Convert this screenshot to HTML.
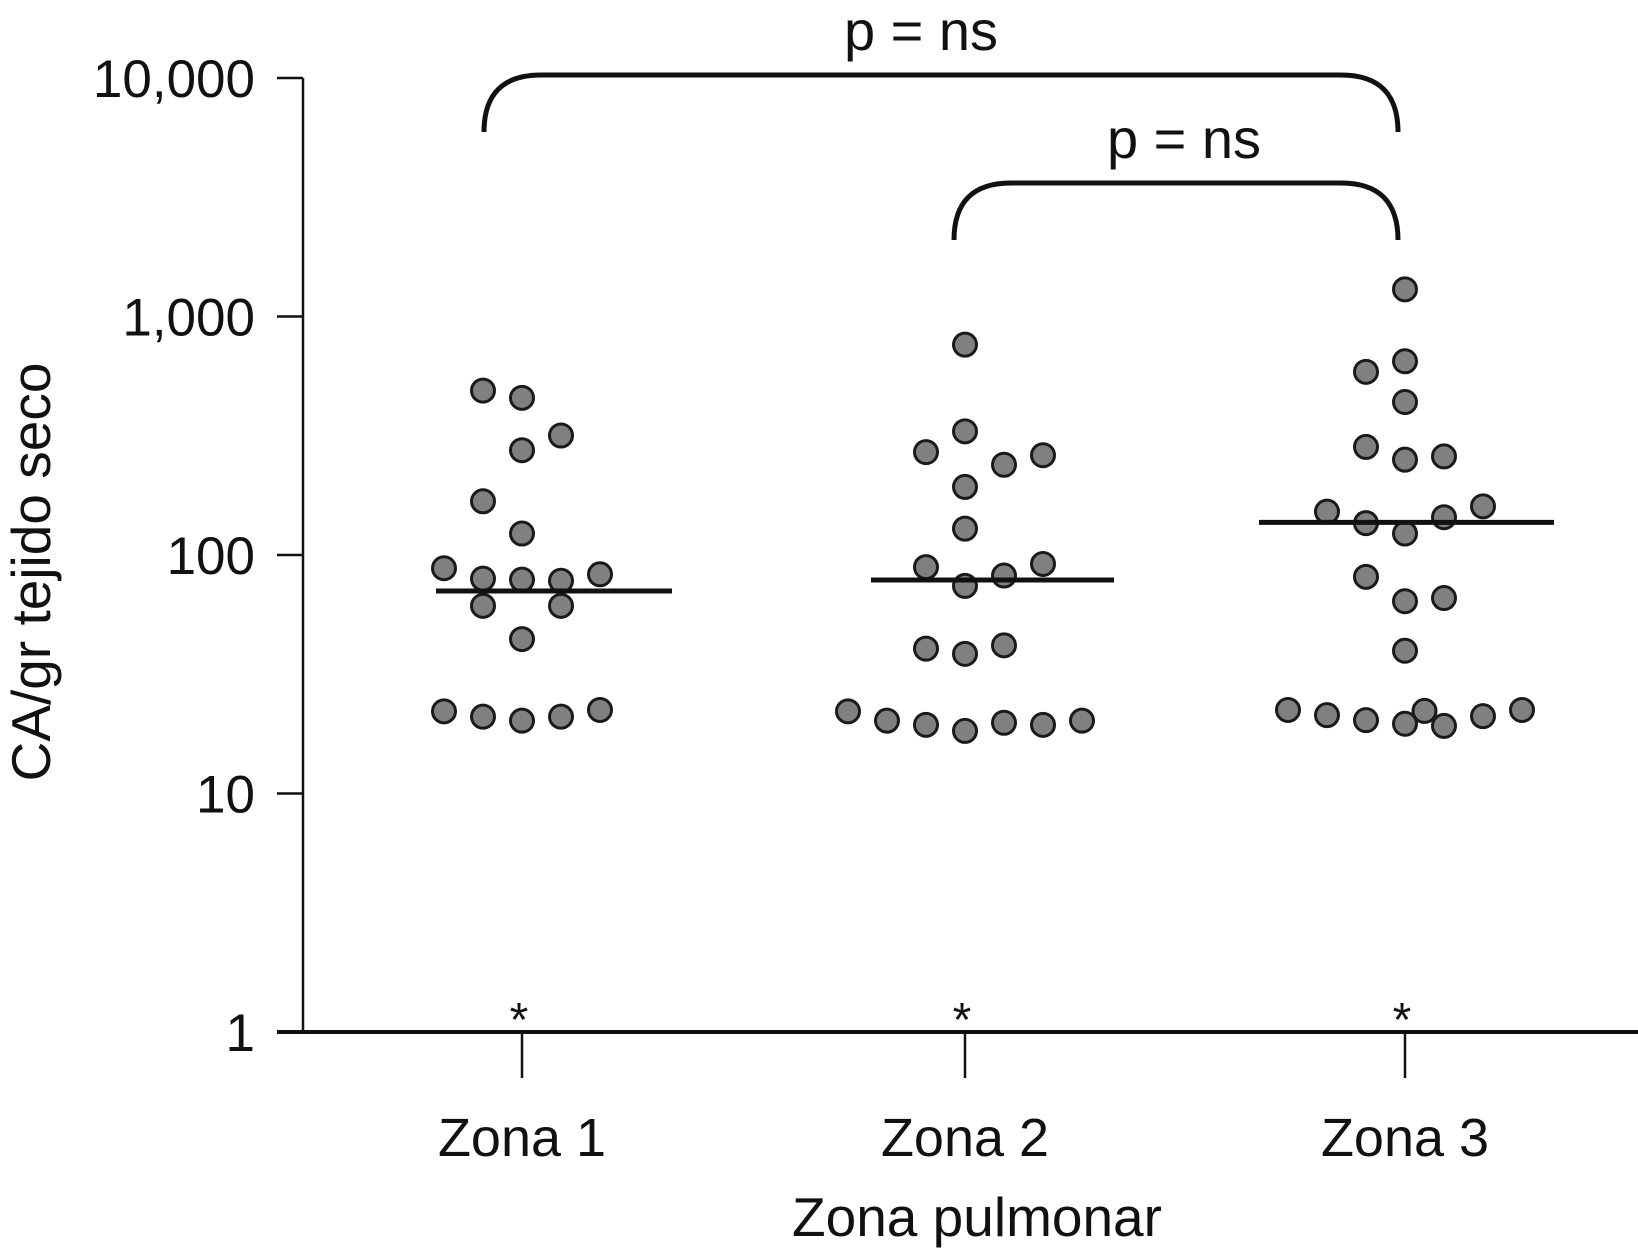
<!DOCTYPE html>
<html><head><meta charset="utf-8"><style>
body{margin:0;background:#fff}
svg{display:block;font-family:"Liberation Sans",Arial,sans-serif}
</style></head><body>
<svg id="chart" width="1638" height="1250" viewBox="0 0 1638 1250">
<g id="axes"></g>
<g id="marks"></g>
</svg>
<script>
const categories = ["Zona 1","Zona 2","Zona 3"];
const zona1Values = [489,456,317,275,168,123,88,79.6,78.8,78,83,61.2,61.2,44.4,22.1,21,20.2,21,22.4];
const zona1Slots  = [-1,0,1,0,-1,0,-2,-1,0,1,2,-1,1,0,-2,-1,0,1,2];
const zona2Values = [762,330,270,262,239,193,129,89,82,91.7,74.2,40.5,41.8,38.5,22.1,20.2,19.4,18.3,19.8,19.4,20.2];
const zona2Slots  = [0,0,-1,2,1,0,0,-1,1,2,0,-1,1,0,-3,-2,-1,0,1,2,3];
const zona3Values = [1300,586,649,438,284,251,259,152,136,123,144,160,81,64,66,39.7,22.4,21.3,20.3,19.6,22.2,19.2,21.1,22.4];
const zona3Slots  = [0,-1,0,0,-1,0,1,-2,-1,0,1,2,-1,0,1,0,-3,-2,-1,0,0.5,1,2,3];
const medians = [70.6,78.6,137];
const yTicks = [1,10,100,1000,10000];
const yTickLabels = ["1","10","100","1,000","10,000"];

const NS="http://www.w3.org/2000/svg";
const axes=document.getElementById('axes'), marks=document.getElementById('marks');
const yTop=78, yBot=1032, decade=(yBot-yTop)/4;
function y(v){return yBot-Math.log10(v)*decade;}
const catX=[522,965,1405];
function x(i){return catX[i];}
const slotW=39;
function mk(tag,attrs,parent,text){const e=document.createElementNS(NS,tag);for(const k in attrs)e.setAttribute(k,attrs[k]);if(text!==undefined)e.textContent=text;parent.appendChild(e);return e;}

let el=mk('line',{x1:303,y1:yTop,x2:303,y2:yBot,stroke:'#111','stroke-width':2.5},axes);


el=mk('line',{x1:277,y1:yBot,x2:1638,y2:yBot,stroke:'#111','stroke-width':4},axes);


yTicks.forEach((t,i)=>{
  let tk=mk('line',{x1:277,y1:y(t),x2:303,y2:y(t),stroke:'#111','stroke-width':2.5},axes);
  
  
  let lb=mk('text',{x:255,y:y(t)+19,'text-anchor':'end','font-size':53,fill:'#111'},axes,yTickLabels[i]);
  
  
});
categories.forEach((c,i)=>{
  let tk=mk('line',{x1:x(i),y1:yBot,x2:x(i),y2:1078,stroke:'#111','stroke-width':2.5},axes);
  
  
  let lb=mk('text',{x:x(i),y:1156,'text-anchor':'middle','font-size':54,fill:'#111'},axes,c);
  
  
  let st=mk('text',{x:x(i)-3,y:1036,'text-anchor':'middle','font-size':48,fill:'#111'},axes,'*');
  
  
});
el=mk('text',{x:977,y:1236,'text-anchor':'middle','font-size':55,fill:'#111'},axes,'Zona pulmonar');


el=mk('text',{x:0,y:0,'text-anchor':'middle','font-size':55,fill:'#111',transform:'translate(50,572) rotate(-90)'},axes,'CA/gr tejido seco');



function bracket(x1,x2,top,bot,r,tx,ty,name){
  let p=mk('path',{d:`M${x1},${bot} L${x1},${top+r} Q${x1},${top} ${x1+r},${top} L${x2-r},${top} Q${x2},${top} ${x2},${top+r} L${x2},${bot}`,fill:'none',stroke:'#111','stroke-width':5},axes);
  
  
  let t=mk('text',{x:tx,y:ty,'text-anchor':'middle','font-size':56,fill:'#111'},axes,'p = ns');
  
  
}
bracket(484,1398,75,131,57,921,50,'bracket-zona1-zona3');
bracket(954,1398,183,240,57,1184,158,'bracket-zona2-zona3');

const groups=[[zona1Values,zona1Slots],[zona2Values,zona2Slots],[zona3Values,zona3Slots]];
groups.forEach((g,i)=>{
  g[0].forEach((v,j)=>{
    let c=mk('circle',{cx:x(i)+g[1][j]*slotW,cy:y(v),r:11.5,fill:'#808080',stroke:'#1a1a1a','stroke-width':3},marks);
    
    
  });
});
const medHalf=[[86,150],[94,149],[146,149]];
medians.forEach((m,i)=>{
  let l=mk('line',{x1:x(i)-medHalf[i][0],x2:x(i)+medHalf[i][1],y1:y(m),y2:y(m),stroke:'#111','stroke-width':5},marks);
  
  
});
</script>
</body></html>
